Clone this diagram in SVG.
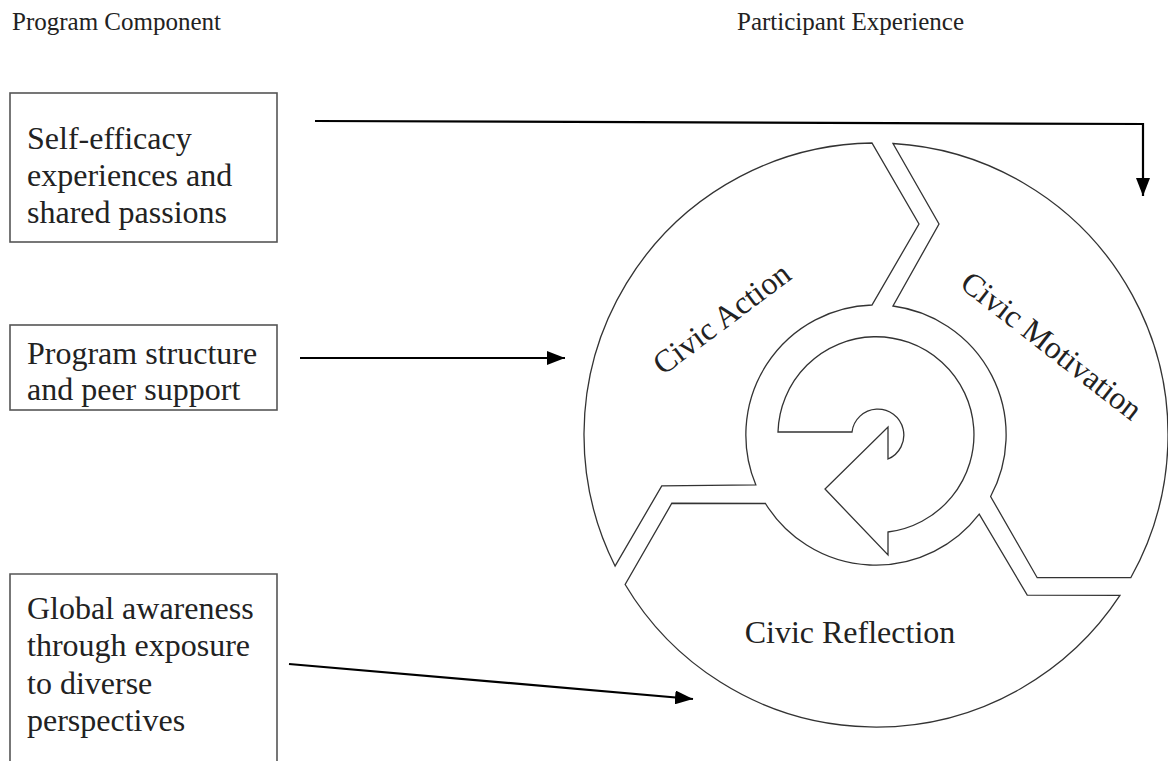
<svg xmlns="http://www.w3.org/2000/svg" width="1168" height="761" viewBox="0 0 1168 761">
  <style>
    .hdr { font-family: "Liberation Serif", "Times New Roman", serif; font-size: 25px; fill: #222; }
    .lbl { font-family: "Liberation Serif", "Times New Roman", serif; font-size: 32px; fill: #222; }
    .box { fill: #fff; stroke: #555; stroke-width: 1.6; }
    .seg { fill: #fff; stroke: #333; stroke-width: 1.3; stroke-linejoin: miter; }
    .conn { fill: none; stroke: #000; stroke-width: 2.2; }
  </style>
  <defs>
    <marker id="arrow" markerUnits="userSpaceOnUse" markerWidth="19" markerHeight="14" refX="18" refY="7" orient="auto">
      <path d="M0,0 L18,7 L0,14 z" fill="#000"/>
    </marker>
    <!-- one third of the ring, centre 876,435; the other two are rotations of it -->
    <path id="ring-part" d="M893,143.5 A292,292 0 0 1 1130.9,577.5 L1037.2,577.7 L990.6,496.5 A130,130 0 0 0 893,306 L939,224 Z"/>
  </defs>
  <rect width="1168" height="761" fill="#fff"/>

  <!-- column headings -->
  <text class="hdr" x="12" y="30">Program Component</text>
  <text class="hdr" x="737" y="30">Participant Experience</text>

  <!-- program component boxes -->
  <g id="box-self-efficacy">
    <rect class="box" x="10" y="93" width="267" height="149"/>
    <text class="lbl" x="27" y="149">Self-efficacy</text>
    <text class="lbl" x="27" y="186">experiences and</text>
    <text class="lbl" x="27" y="223">shared passions</text>
  </g>
  <g id="box-program-structure">
    <rect class="box" x="10" y="325" width="267" height="85"/>
    <text class="lbl" x="27" y="364">Program structure</text>
    <text class="lbl" x="27" y="400">and peer support</text>
  </g>
  <g id="box-global-awareness">
    <path class="box" d="M10,770 L10,574 L277,574 L277,770"/>
    <text class="lbl" x="27" y="619">Global awareness</text>
    <text class="lbl" x="27" y="656">through exposure</text>
    <text class="lbl" x="27" y="694">to diverse</text>
    <text class="lbl" x="27" y="731">perspectives</text>
  </g>

  <!-- cycle segments -->
  <g id="seg-civic-motivation">
    <use href="#ring-part" class="seg"/>
    <text class="lbl" transform="translate(1045,354) rotate(38)" text-anchor="middle">Civic Motivation</text>
  </g>
  <g id="seg-civic-reflection">
    <use href="#ring-part" class="seg" transform="rotate(120 876 435)"/>
    <text class="lbl" x="850" y="643" text-anchor="middle">Civic Reflection</text>
  </g>
  <g id="seg-civic-action">
    <use href="#ring-part" class="seg" transform="rotate(240 876 435)"/>
    <text class="lbl" transform="translate(728,327) rotate(-37)" text-anchor="middle">Civic Action</text>
  </g>

  <!-- circular arrow in the middle -->
  <g id="cycle-arrow">
    <path class="seg" d="M778,432 A98,98 0 1 1 888,532 L888,555 L825,489 L888,427 L888,459 A26,26 0 1 0 852,432 Z"/>
  </g>

  <!-- connectors -->
  <g id="connectors">
    <polyline class="conn" points="315,121 1143,124 1143,196" marker-end="url(#arrow)"/>
    <line class="conn" x1="300" y1="358" x2="565" y2="358" marker-end="url(#arrow)"/>
    <line class="conn" x1="289" y1="664" x2="693" y2="699" marker-end="url(#arrow)"/>
  </g>
</svg>
